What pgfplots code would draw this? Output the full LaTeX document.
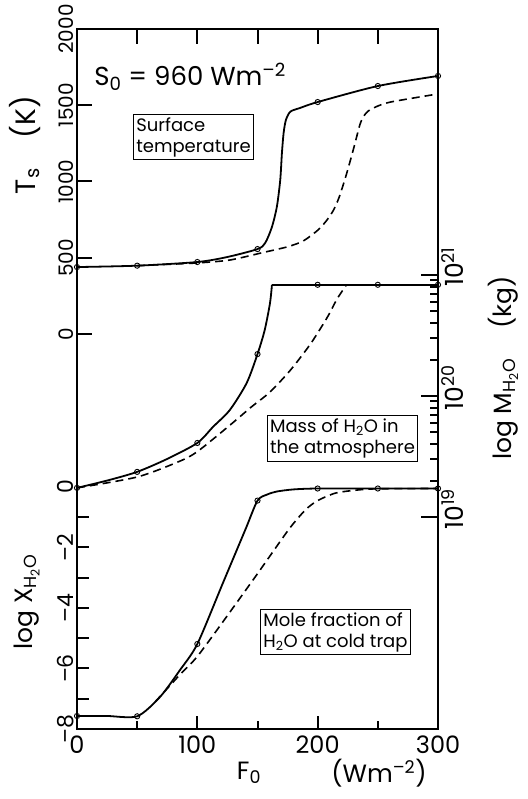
\documentclass[border=0pt]{standalone}
\usepackage{fontspec}
\setmainfont{Poppins}
\usepackage{pgfplots}
\pgfplotsset{compat=1.18}
\tikzset{tk/.style={black, line width=2pt}}
\begin{document}
\begin{tikzpicture}
\pgfplotsset{
  base/.style={scale only axis, width=361pt, height=700pt, at={(77pt,70pt)}, anchor=south west,
    xmin=0, xmax=300, clip=false, tick align=inside,
    major tick length=0pt, minor tick length=0pt,
    axis line style={line width=2pt},
    /pgf/number format/assume math mode=true},
  sol/.style={black, line width=1.8pt, smooth, tension=0.45, line join=round},
  das/.style={black, line width=1.6pt, smooth, tension=0.45, dash pattern=on 8pt off 5pt},
  pts/.style={only marks, mark=o, mark size=2.6pt, mark options={fill=white, line width=0.9pt}},
}
% frame and bottom x tick labels
\begin{axis}[base, ymin=0, ymax=1, ytick=\empty,
  xtick={0,100,200,300}, xtick pos=bottom,
  xticklabels={0,100,200,300},
  xticklabel style={font=\fontsize{24}{24}\selectfont, yshift=-3pt}]
\end{axis}
% surface temperature
\begin{axis}[base, ymin=-2590, ymax=2000, xtick=\empty,
  ytick={0,500,1000,1500,2000}, yticklabels={0,500,1000,1500,2000}, ytick pos=left,
  yticklabel style={rotate=90, anchor=south, font=\fontsize{20}{20}\selectfont}]
\addplot[sol] coordinates {(0,439) (50,448) (100,472) (125,505) (150,557) (156.4,597) (162,702) (166.1,835) (168.9,1010) (170.3,1187) (171.7,1318) (173.6,1403) (177.3,1458) (185.3,1482) (200,1521) (250,1626) (300,1692)};
\addplot[das] coordinates {(50,448) (70,455) (100,466) (127,485) (155,535) (175,572) (188,610) (200,680) (207,740) (213,810) (218,900) (224,1050) (230,1220) (235,1370) (238,1425) (242,1462) (250,1495) (260,1520) (280,1548) (300,1574)};
\addplot[pts] coordinates {(0,439) (50,448) (100,472) (150,557) (200,1521) (250,1626) (300,1692)};
\end{axis}
% log mole fraction
\begin{axis}[base, ymin=-8, ymax=15.14, xtick=\empty,
  ytick={-8,-6,-4,-2,0}, yticklabels={–8,–6,–4,–2,0}, ytick pos=left,
  yticklabel style={rotate=90, anchor=south, font=\fontsize{22}{22}\selectfont}]
\addplot[sol] coordinates {(0,-7.57) (25,-7.57) (50,-7.58) (69,-6.94) (85.6,-6.05) (100,-5.19) (121.3,-3.17) (140,-1.4) (150,-0.45) (158,-0.25) (166,-0.15) (180,-0.08) (200,-0.05) (250,-0.05) (300,-0.05)};
\addplot[das] coordinates {(65,-7.1) (85.6,-6.2) (102,-5.5) (144,-3.2) (160,-2.3) (177,-1.35) (190,-0.75) (200,-0.45) (215,-0.2) (233,-0.1) (250,-0.06) (300,-0.05)};
\addplot[pts] coordinates {(0,-7.57) (50,-7.58) (100,-5.19) (150,-0.45) (200,-0.05) (250,-0.05) (300,-0.05)};
\end{axis}
% mass of water in atmosphere
\begin{axis}[base, ymode=log, ymin=1.77e17, ymax=1.08e23, xtick=\empty,
  ytick={1e19,1e20,1e21}, yticklabels={10\textsuperscript{19},10\textsuperscript{20},10\textsuperscript{21}},
  minor ytick={}, ytick pos=right,
  yticklabel style={rotate=90, anchor=north, xshift=8pt, font=\fontsize{25}{25}\selectfont}]
\addplot[sol] coordinates {(0,1.74e19) (25,2.0e19) (50,2.36e19) (75,3.02e19) (100,4.09e19) (113,5.55e19) (127,7.66e19) (141,1.28e20) (150,2.22e20) (156,3.51e20) (160.4,5.87e20) (162,8.3e20)};
\addplot[black, line width=1.8pt] coordinates {(162,8.3e20) (300,8.3e20)};
\addplot[das] coordinates {(0,1.74e19) (50,2.14e19) (85,2.88e19) (100,3.47e19) (126,5.62e19) (145,8.13e19) (160,1.07e20) (177,1.62e20) (194,2.69e20) (208,4.47e20) (216,6.31e20) (224,8.32e20)};
\addplot[pts] coordinates {(0,1.74e19) (50,2.36e19) (100,4.09e19) (150,2.22e20) (200,8.3e20) (250,8.3e20) (300,8.3e20)};
\end{axis}
% tick marks (frame: x 77..438 pt, y 70..770 pt)
\foreach \x in {197.33,317.67} \draw[tk] (\x pt,70pt) -- ++(0pt,13pt);
\foreach \x in {137.17,257.5,377.83} \draw[tk] (\x pt,70pt) -- ++(0pt,8pt);
\foreach \x in {137.17,197.33,257.5,317.67,377.83} \draw[tk] (\x pt,770pt) -- ++(0pt,-15pt);
\foreach \y in {465.0,541.25,617.5,693.75} \draw[tk] (77pt,\y pt) -- ++(15pt,0pt);
\foreach \y in {100.25,130.5,160.75,191.0,221.25,251.5,281.75} \draw[tk] (77pt,\y pt) -- ++(12pt,0pt);
\foreach \y in {282.0,403.0,524.0} \draw[tk] (438pt,\y pt) -- ++(-17pt,0pt);
\foreach \y in {318.4,339.7,354.9,366.6,376.2,384.3,391.3,397.5,439.4,460.7,475.9,487.6,497.2,505.3,512.3,518.5} \draw[tk] (438pt,\y pt) -- ++(-8pt,0pt);
% texts
\node[rotate=90, font=\fontsize{28}{28}\selectfont] at (25pt,654pt) {T\textsubscript{s}\hspace{30pt}(K)};
\node[rotate=90, font=\fontsize{25}{25}\selectfont] at (27pt,197pt) {log X\textsubscript{H\textsubscript{2}O}};
\node[rotate=90, font=\fontsize{25}{25}\selectfont] at (503pt,431pt) {log M\textsubscript{H\textsubscript{2}O}\hspace{30pt}(kg)};
\node[font=\fontsize{25}{25}\selectfont] at (249pt,26pt) {F\textsubscript{0}};
\node[font=\fontsize{25}{25}\selectfont] at (379pt,26pt) {(Wm\textsuperscript{–2})};
\node[font=\fontsize{26}{26}\selectfont] at (190pt,722pt) {S\textsubscript{0} = 960 Wm\textsuperscript{–2}};
\node[draw, line width=1pt, inner sep=3pt, align=left, font=\fontsize{18}{21}\selectfont] at (193.5pt,662pt) {Surface\\temperature};
\node[draw, line width=1pt, inner sep=3pt, align=left, font=\fontsize{18}{21}\selectfont] at (342.5pt,360.5pt) {Mass of H\textsubscript{2}O in\\the atmosphere};
\node[draw, line width=1pt, inner sep=3pt, align=left, font=\fontsize{18}{21}\selectfont] at (335.5pt,167pt) {Mole fraction of\\H\textsubscript{2}O at cold trap};
\pgfresetboundingbox
\path (0pt,0pt) rectangle (527pt,799pt);
\end{tikzpicture}
\end{document}
